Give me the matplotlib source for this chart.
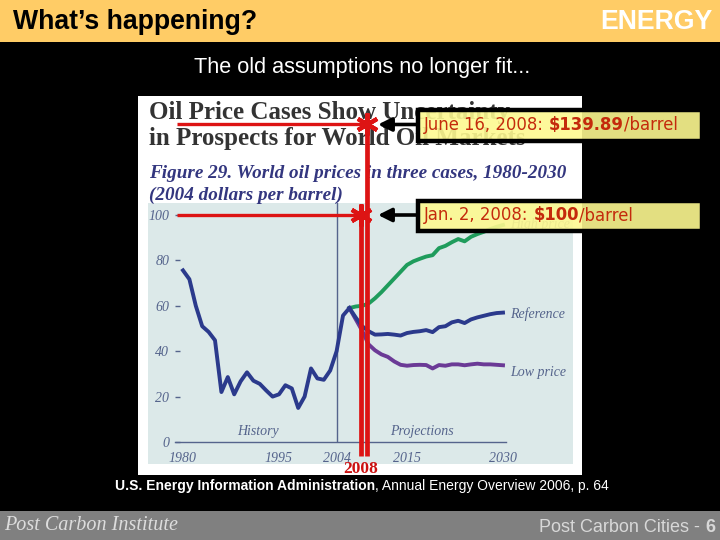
"""Slide: oil price cases chart with the 2008 price callouts on top."""
import numpy as np
from matplotlib import pyplot as plt
from matplotlib.patches import Rectangle

# ---- chart data ----
histYears = list(range(1980, 2007))
histPrice = [75.6, 71.7, 60.0, 51.0, 48.5, 44.8, 22.0, 28.6, 21.0, 26.7, 30.7, 27.0, 25.6, 22.7,
             20.0, 21.0, 25.0, 23.6, 15.0, 20.0, 32.4, 28.0, 27.4, 31.5, 40.0, 55.7, 59.0]
projYears = list(range(2006, 2031))
refPrice = [59.0, 54.8, 51.0, 48.8, 47.3, 47.4, 47.6, 47.3, 46.9, 48.0, 48.5, 48.8, 49.3,
            48.4, 50.6, 51.0, 52.7, 53.4, 52.4, 54.0, 54.9, 55.6, 56.3, 56.8, 57.0]
lowPrice = [59.0, 54.0, 49.0, 43.0, 40.4, 38.6, 37.5, 35.5, 34.0, 33.6, 33.9, 34.0, 33.9,
            32.4, 33.9, 33.6, 34.2, 34.2, 33.8, 34.2, 34.5, 34.2, 34.2, 34.0, 33.8]
highPrice = [59.0, 59.7, 60.0, 61.0, 63.3, 66.0, 69.0, 72.0, 75.0, 78.0, 79.6, 80.7, 81.7,
             82.3, 85.4, 86.4, 88.0, 89.4, 88.4, 90.4, 91.6, 92.6, 93.8, 94.8, 95.6]
yTicks = [0, 20, 40, 60, 80, 100]
xTicks = [1980, 1995, 2004, 2015, 2030]

# the two 2008 prices marked on top of the chart
markYears = [2007.8, 2008.75]
markPrices = [100, 139.89]
markDates = ['Jan. 2, 2008: ', 'June 16, 2008: ']
markLabels = ['$100', '$139.89']

W, H = 720, 540
NAVY, GREEN, PURPLE = '#2b3a8c', '#1f9c5c', '#6b3a96'
LABEL = '#55648c'
RED = '#dd1414'
SERIF = 'Liberation Serif'
SANS = 'Liberation Sans'

fig = plt.figure(figsize=(W / 100, H / 100), dpi=100, facecolor='black')


def pixelAxes(zorder):
    """Full-figure axes in image pixels, y going down."""
    ax = fig.add_axes([0, 0, 1, 1], zorder=zorder)
    ax.set_xlim(0, W)
    ax.set_ylim(H, 0)
    ax.axis('off')
    return ax


def textRun(ax, x, y, parts, **kw):
    """Write text pieces one after the other; parts = (string, weight)."""
    rend = fig.canvas.get_renderer()
    for s, weight in parts:
        t = ax.text(x, y, s, weight=weight, va='center', parse_math=False, **kw)
        x = ax.transData.inverted().transform(t.get_window_extent(rend).corners()[-1])[0]


# ================= slide background =================
bg = pixelAxes(0)
bg.add_patch(Rectangle((0, 0), W, 42, color='#ffcc66', lw=0))
bg.add_patch(Rectangle((0, 511), W, 29, color='#808080', lw=0))
bg.add_patch(Rectangle((138, 96), 444, 379, color='white', lw=0))
bg.add_patch(Rectangle((148, 203), 425, 261, color='#dce9e9', lw=0))

bg.text(13, 22, 'What\u2019s happening?', family=SANS, weight='bold', size=19.2, va='center', color='black')
bg.text(712, 22, 'ENERGY', family=SANS, weight='bold', size=19.2, va='center', ha='right', color='white')
bg.text(362, 67, 'The old assumptions no longer fit...', family=SANS, size=15.6, va='center', ha='center', color='white')
textRun(bg, 115, 486, [('U.S. Energy Information Administration', 'bold'),
                       (', Annual Energy Overview 2006, p. 64', 'normal')],
        family=SANS, size=10, color='white')
bg.text(4, 525, 'Post Carbon Institute', family=SERIF, style='italic', size=14.5, va='center', color='#dddddd')
textRun(bg, 539, 527, [('Post Carbon Cities - ', 'normal'), ('6', 'bold')],
        family=SANS, size=13, color='#d8d8d8')

# the text of the pasted figure
bg.text(149, 112, 'Oil Price Cases Show Uncertainty', family=SERIF, weight='bold', size=18, va='center', color='#333333')
bg.text(149, 138, 'in Prospects for World Oil Markets', family=SERIF, weight='bold', size=18, va='center', color='#333333')
bg.text(149, 174, 'Figure 29. World oil prices in three cases, 1980-2030', family=SERIF, weight='bold',
        style='italic', size=13.8, va='center', color='#33367f')
bg.text(149, 195, '(2004 dollars per barrel)', family=SERIF, weight='bold', style='italic', size=13.8,
        va='center', color='#33367f')

# ================= the chart =================
# pixel frame of the plot, and the price scale that goes with it
left, right, bottom, top = 175, 506, 442, 203
ax = fig.add_axes([left / W, 1 - bottom / H, (right - left) / W, (bottom - top) / H], zorder=1)
ax.patch.set_visible(False)
ax.set_xlim(1980 + (left - 183) / 6.4, 1980 + (right - 183) / 6.4)
ax.set_ylim(0, (bottom - top) / 2.27)
for side in ['top', 'left', 'right']:
    ax.spines[side].set_visible(False)
ax.spines['bottom'].set_color(LABEL)
ax.spines['bottom'].set_linewidth(1.0)
ax.set_xticks(xTicks)
ax.set_yticks(yTicks)
ax.tick_params(axis='x', length=0, pad=7, labelcolor=LABEL)
ax.tick_params(axis='y', direction='in', length=3.5, width=1.0, color=LABEL, pad=4, labelcolor=LABEL)
for lab in ax.get_xticklabels() + ax.get_yticklabels():
    lab.set_family(SERIF)
    lab.set_style('italic')
    lab.set_size(10)
ax.axvline(2004, color=LABEL, lw=1.0)

ax.plot(projYears, highPrice, color=GREEN, lw=2.8, solid_joinstyle='round')
ax.plot(projYears, lowPrice, color=PURPLE, lw=2.8, solid_joinstyle='round')
ax.plot(projYears, refPrice, color=NAVY, lw=2.8, solid_joinstyle='round')
ax.plot(histYears, histPrice, color=NAVY, lw=2.8, solid_joinstyle='round')

labelKw = dict(family=SERIF, style='italic', size=10, color=LABEL, va='center', clip_on=False)
ax.text(2031.1, highPrice[-1], 'High price', **labelKw)
ax.text(2031.1, refPrice[-1] - 0.5, 'Reference', **labelKw)
ax.text(2031.1, lowPrice[-1] - 3.0, 'Low price', **labelKw)
ax.text(1991.7, 4.5, 'History', ha='center', **labelKw)
ax.text(2017.3, 4.5, 'Projections', ha='center', **labelKw)

# red price markers, in the chart's own scale so they line up with the axis
for yr, price in zip(markYears, markPrices):
    ax.plot([yr, yr], [-6, price], color=RED, lw=3.4, clip_on=False, zorder=5, solid_capstyle='butt')
    ax.plot([1979, yr], [price, price], color=RED, lw=2.4, clip_on=False, zorder=5, solid_capstyle='butt')
    ax.plot([yr], [price], marker=(6, 2, 0), ms=16, mew=3.0, color=RED, clip_on=False, zorder=6)
ax.text(markYears[0], -12, '2008', family=SERIF, weight='bold', size=12.5, color='#cc1111',
        ha='center', va='center', clip_on=False)

# ================= yellow callouts =================
over = pixelAxes(2)
for price, date, label, ty in zip(markPrices[::-1], markDates[::-1], markLabels[::-1], [125.5, 216]):
    boxTop, boxH = (112, 27) if ty < 200 else (203, 26)
    over.add_patch(Rectangle((420, boxTop), 280, boxH, facecolor='#fdf990', alpha=0.9, lw=0))
    over.add_patch(Rectangle((418, boxTop - 2), 284, boxH + 4, fill=False, edgecolor='black', lw=3.2))
    over.annotate('', xy=(378, ty - 1), xytext=(418, ty - 1),
                  arrowprops=dict(arrowstyle='-|>,head_width=0.4,head_length=0.8', color='black', lw=2.6,
                                  shrinkA=0, shrinkB=0))
    textRun(over, 424, ty - 1, [(date, 'normal'), (label, 'bold'), ('/barrel', 'normal')],
            family='DejaVu Sans', size=11.9, color='#c42a0c')

fig.savefig('out.png', dpi=100, facecolor='black')
